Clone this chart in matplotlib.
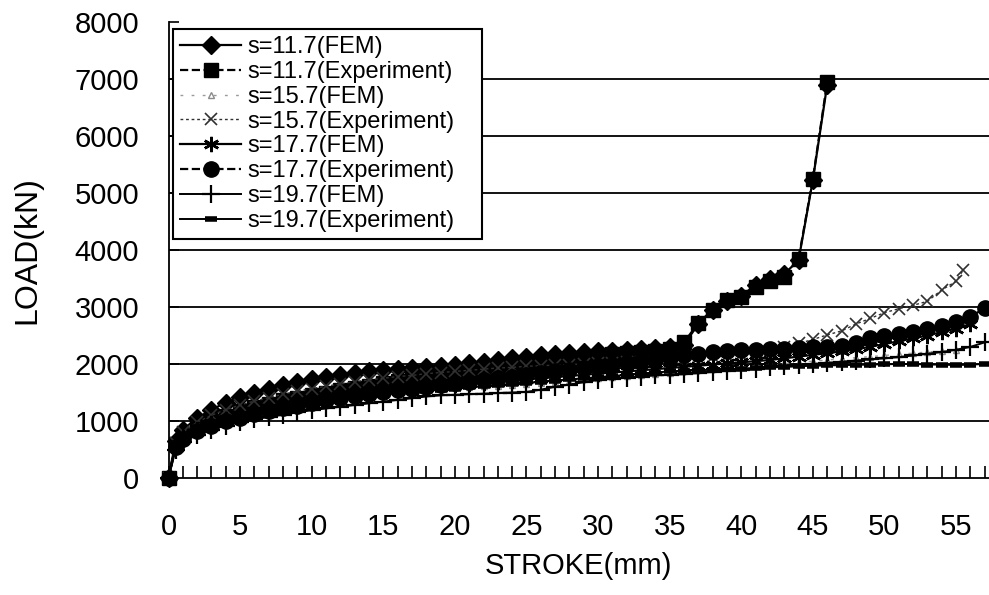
import matplotlib
matplotlib.use('Agg')
import matplotlib.pyplot as plt
from matplotlib.ticker import MultipleLocator

plt.rcParams['font.family'] = ['Liberation Sans', 'DejaVu Sans']

# stroke positions (mm)
x_117 = [0, 0.5, 1, 2, 3, 4, 5, 6, 7, 8, 9, 10, 11, 12, 13, 14, 15, 16, 17, 18, 19, 20,
         21, 22, 23, 24, 25, 26, 27, 28, 29, 30, 31, 32, 33, 34, 35, 36, 37, 38, 39, 40,
         41, 42, 43, 44, 45, 46]
x_157f = [0, 0.5, 1, 2, 3, 4, 5, 6, 7, 8, 9, 10, 11, 12, 13, 14, 15, 16, 17, 18, 19, 20,
          21, 22, 23, 24, 25, 26, 27, 28, 29, 30, 31, 32, 33, 34, 35, 36, 37, 38, 39, 40,
          41, 42, 43, 44, 45, 46, 47, 48, 49, 50, 51, 52, 53, 54, 55]
x_157e = [0, 0.5, 1, 2, 3, 4, 5, 6, 7, 8, 9, 10, 11, 12, 13, 14, 15, 16, 17, 18, 19, 20,
          21, 22, 23, 24, 25, 26, 27, 28, 29, 30, 31, 32, 33, 34, 35, 36, 37, 38, 39, 40,
          41, 42, 43, 44, 45, 46, 47, 48, 49, 50, 51, 52, 53, 54, 55, 55.5]
x_177f = [0, 0.5, 1, 2, 3, 4, 5, 6, 7, 8, 9, 10, 11, 12, 13, 14, 15, 16, 17, 18, 19, 20,
          21, 22, 23, 24, 25, 26, 27, 28, 29, 30, 31, 32, 33, 34, 35, 36, 37, 38, 39, 40,
          41, 42, 43, 44, 45, 46, 47, 48, 49, 50, 51, 52, 53, 54, 55, 56]
x_long = [0, 0.5, 1, 2, 3, 4, 5, 6, 7, 8, 9, 10, 11, 12, 13, 14, 15, 16, 17, 18, 19, 20,
          21, 22, 23, 24, 25, 26, 27, 28, 29, 30, 31, 32, 33, 34, 35, 36, 37, 38, 39, 40,
          41, 42, 43, 44, 45, 46, 47, 48, 49, 50, 51, 52, 53, 54, 55, 56, 57]

# loads (kN)
fem_117 = [0, 650, 850, 1050, 1200, 1320, 1420, 1500, 1570, 1630, 1690, 1740, 1780, 1810,
           1840, 1870, 1890, 1910, 1930, 1950, 1970, 1990, 2010, 2040, 2070, 2100, 2130,
           2150, 2170, 2190, 2210, 2220, 2230, 2240, 2260, 2280, 2300, 2340, 2700, 2950,
           3100, 3200, 3380, 3500, 3580, 3820, 5230, 6900]
exp_117 = [0, 600, 760, 900, 1000, 1090, 1170, 1240, 1300, 1360, 1410, 1460, 1500, 1540,
           1580, 1620, 1660, 1700, 1740, 1780, 1810, 1840, 1870, 1900, 1930, 1960, 1990,
           2020, 2050, 2080, 2110, 2140, 2170, 2190, 2210, 2230, 2260, 2380, 2720, 2950,
           3120, 3180, 3350, 3450, 3530, 3850, 5250, 6950]
fem_157 = [0, 560, 720, 860, 960, 1040, 1110, 1170, 1230, 1280, 1330, 1370, 1410, 1440,
           1470, 1500, 1520, 1540, 1560, 1570, 1580, 1590, 1600, 1610, 1620, 1630, 1650,
           1670, 1690, 1710, 1730, 1750, 1770, 1790, 1810, 1830, 1850, 1870, 1890, 1910,
           1930, 1950, 1970, 1990, 2010, 2030, 2050, 2070, 2090, 2110, 2130, 2150, 2170,
           2190, 2210, 2230, 2250]
exp_157 = [0, 620, 800, 980, 1100, 1200, 1280, 1350, 1410, 1470, 1520, 1570, 1610, 1650,
           1690, 1720, 1750, 1780, 1800, 1830, 1850, 1870, 1890, 1910, 1930, 1940, 1960,
           1970, 1980, 1990, 2000, 2010, 2020, 2030, 2040, 2050, 2060, 2080, 2100, 2120,
           2140, 2160, 2190, 2230, 2290, 2360, 2430, 2510, 2580, 2700, 2800, 2900, 2970,
           3030, 3100, 3300, 3450, 3650]
fem_177 = [0, 580, 720, 860, 960, 1040, 1110, 1170, 1220, 1270, 1310, 1350, 1390, 1420,
           1450, 1480, 1510, 1540, 1560, 1580, 1600, 1630, 1650, 1670, 1690, 1710, 1730,
           1750, 1770, 1790, 1810, 1830, 1850, 1870, 1890, 1910, 1930, 1950, 1970, 1990,
           2010, 2030, 2050, 2070, 2100, 2130, 2160, 2190, 2220, 2260, 2300, 2350, 2400,
           2450, 2500, 2560, 2620, 2700]
exp_177 = [0, 540, 680, 820, 920, 1000, 1060, 1120, 1170, 1220, 1270, 1320, 1360, 1400,
           1440, 1480, 1510, 1540, 1570, 1600, 1630, 1660, 1690, 1720, 1750, 1780, 1810,
           1840, 1870, 1900, 1930, 1960, 1990, 2020, 2050, 2080, 2110, 2150, 2180, 2210,
           2230, 2240, 2250, 2260, 2270, 2280, 2290, 2300, 2320, 2370, 2450, 2500, 2530,
           2570, 2620, 2660, 2730, 2830, 2980]
fem_197 = [0, 500, 630, 760, 850, 920, 980, 1030, 1070, 1110, 1150, 1190, 1220, 1250,
           1280, 1310, 1340, 1370, 1400, 1430, 1450, 1460, 1470, 1480, 1490, 1500, 1510,
           1550, 1600, 1640, 1680, 1720, 1740, 1760, 1780, 1800, 1810, 1820, 1840, 1860,
           1880, 1900, 1920, 1940, 1960, 1980, 2000, 2020, 2040, 2060, 2080, 2100, 2120,
           2150, 2180, 2210, 2250, 2300, 2380]
exp_197 = [0, 560, 700, 830, 930, 1010, 1080, 1140, 1190, 1240, 1280, 1320, 1350, 1380,
           1410, 1440, 1470, 1490, 1510, 1530, 1550, 1570, 1590, 1610, 1630, 1650, 1670,
           1690, 1710, 1730, 1750, 1770, 1790, 1810, 1830, 1850, 1870, 1880, 1890, 1900,
           1910, 1920, 1930, 1940, 1950, 1960, 1970, 1975, 1980, 1985, 1990, 1995, 2000,
           2000, 1990, 1990, 1980, 1990, 2000]

labels = ['s=11.7(FEM)', 's=11.7(Experiment)', 's=15.7(FEM)', 's=15.7(Experiment)',
          's=17.7(FEM)', 's=17.7(Experiment)', 's=19.7(FEM)', 's=19.7(Experiment)']

fig = plt.figure(figsize=(9.89, 5.95), dpi=100)
ax = fig.add_axes([168.5 / 989, 117 / 595, 820.5 / 989, 456 / 595])

ax.plot(x_117, fem_117, '-', color='black', lw=1.6, marker='D', ms=9, label=labels[0])
ax.plot(x_117, exp_117, '--', color='black', lw=1.6, marker='s', ms=10, label=labels[1])
ax.plot(x_157f, fem_157, ls=(0, (2, 6)), color='#9a9a9a', lw=1.0, marker='^', ms=5,
        mfc='white', mec='#8a8a8a', label=labels[2])
ax.plot(x_157e, exp_157, ls=(0, (2, 2)), color='#303030', lw=1.0, marker='x', ms=9,
        mew=1.2, label=labels[3])
ax.plot(x_177f, fem_177, '-', color='black', lw=1.6, marker=(6, 2, 0), ms=11, mew=1.8,
        label=labels[4])
ax.plot(x_long, exp_177, '--', color='black', lw=1.6, marker='o', ms=11, label=labels[5])
ax.plot(x_long, fem_197, '-', color='black', lw=1.4, marker='+', ms=13, mew=1.6,
        label=labels[6])
ax.plot(x_long, exp_197, '-', color='black', lw=1.4, marker='_', ms=8, mew=4,
        label=labels[7])
# the origin markers sit on the axes corner and are not cut off
for ln in ax.get_lines():
    ln.set_clip_on(False)

ax.set_xlim(0, 57.3)
ax.set_ylim(0, 8000)
ax.set_xticks([0, 5, 10, 15, 20, 25, 30, 35, 40, 45, 50, 55])
ax.xaxis.set_minor_locator(MultipleLocator(1))
ax.set_yticks([0, 1000, 2000, 3000, 4000, 5000, 6000, 7000, 8000])
ax.tick_params(axis='x', which='both', direction='in', length=9, width=1.2, pad=25,
               labelsize=21)
ax.tick_params(axis='y', direction='in', length=7, width=1.2, pad=21, labelsize=21)

ax.grid(axis='y', color='black', lw=1.3)
ax.set_axisbelow(True)
ygl = ax.get_ygridlines()
ygl[0].set_visible(False)
ygl[-1].set_visible(False)

for side in ['top', 'right']:
    ax.spines[side].set_visible(False)
ax.spines['left'].set_linewidth(1.3)
ax.spines['bottom'].set_linewidth(1.3)

ax.set_xlabel('STROKE(mm)', fontsize=21)
ax.xaxis.set_label_coords(0.5, -0.162)
ax.set_ylabel('LOAD(kN)', fontsize=23)
ax.yaxis.set_label_coords(-0.154, 0.5)

leg = ax.legend(loc='upper left', bbox_to_anchor=(0.0055, 0.3, 0.3765, 0.6846),
                mode='expand', borderaxespad=0, fontsize=17, handlelength=2.6,
                handletextpad=0.25, labelspacing=0.12, borderpad=0.3,
                fancybox=False, framealpha=1, edgecolor='black')
leg.get_frame().set_linewidth(1.5)
leg.set_zorder(5)

fig.savefig('out.png', dpi=100)
